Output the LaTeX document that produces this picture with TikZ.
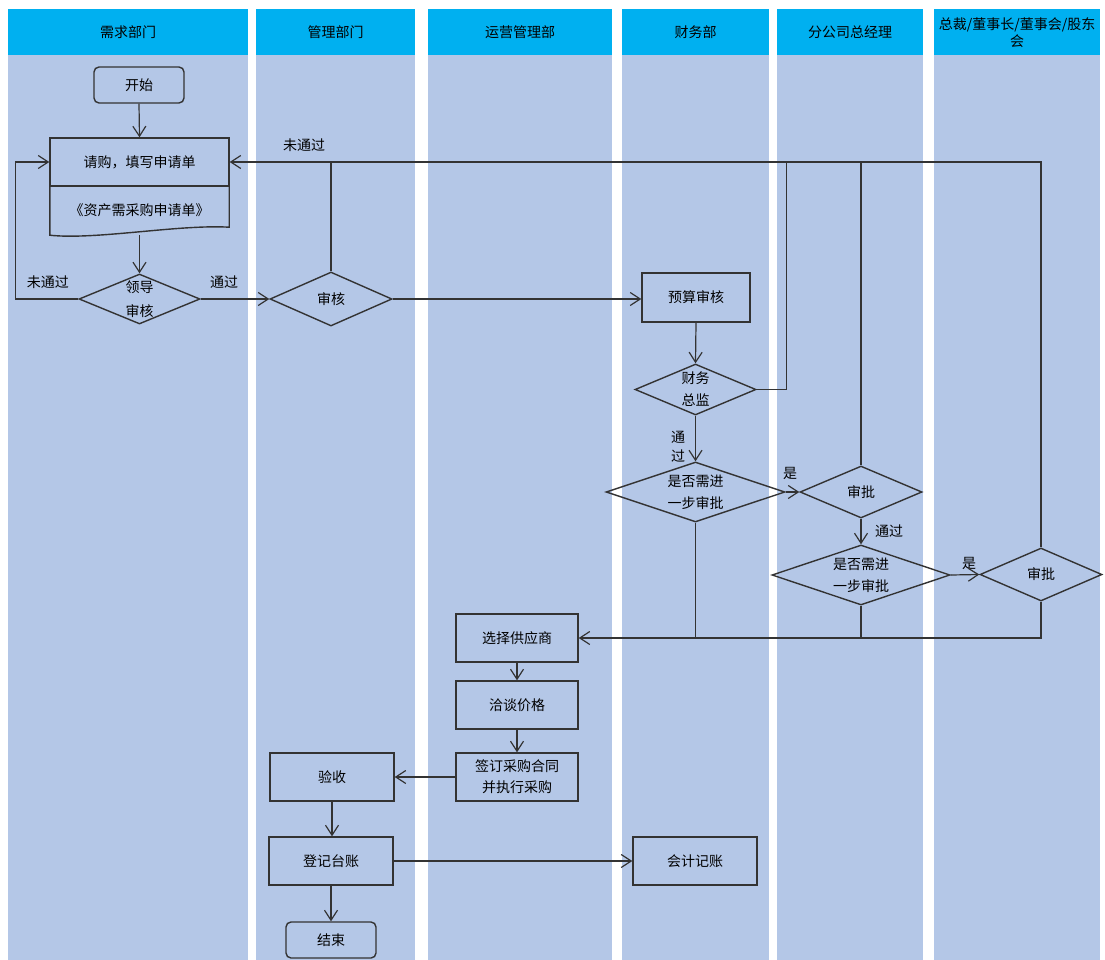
\documentclass[tikz,border=0pt]{standalone}
\usepackage{fontspec}
\setmainfont{Noto Sans CJK SC}
\usetikzlibrary{arrows.meta,shapes.geometric,calc}
\definecolor{hdr}{HTML}{00B0F0}
\definecolor{lanebg}{HTML}{B4C7E7}
\definecolor{ln}{HTML}{333333}
\begin{document}
\begin{tikzpicture}[x=1pt,y=-1pt,
  font=\fontsize{14}{16}\selectfont,
  hdrbox/.style={fill=hdr, draw=none, inner sep=0, anchor=north west, minimum height=46, align=center},
  box/.style={draw=ln, line width=1.4pt, rectangle, inner sep=0, align=center},
  term/.style={box, rounded corners=5pt},
  dia/.style={draw=ln, line width=1.4pt, diamond, inner sep=0},
  conn/.style={draw=ln, line width=1.2pt},
  arr/.style={conn, -{Straight Barb[length=10pt,width=13pt]}},
  lbl/.style={inner sep=0}
]
\useasboundingbox (0,0) rectangle (1105,960);
\fill[white] (0,0) rectangle (1105,960);
% lanes
\fill[lanebg] (8,55) rectangle (248,960);
\fill[lanebg] (256,55) rectangle (415,960);
\fill[lanebg] (428,55) rectangle (612,960);
\fill[lanebg] (622,55) rectangle (769,960);
\fill[lanebg] (777,55) rectangle (923,960);
\fill[lanebg] (934,55) rectangle (1100,960);
\node[hdrbox, minimum width=240] (h1) at (8,9) {需求部门};
\node[hdrbox, minimum width=159] (h2) at (256,9) {管理部门};
\node[hdrbox, minimum width=184] (h3) at (428,9) {运营管理部};
\node[hdrbox, minimum width=147] (h4) at (622,9) {财务部};
\node[hdrbox, minimum width=146] (h5) at (777,9) {分公司总经理};
\node[hdrbox, minimum width=166, font=\fontsize{14}{17}\selectfont] (h6) at (934,9) {总裁/董事长/董事会/股东\\会};

% nodes
\node[term, minimum width=90, minimum height=36] (start) at (139,85) {开始};
\node[box, minimum width=179, minimum height=48] (req) at (139.5,162) {请购，填写申请单};
\node[inner sep=0, minimum width=179, minimum height=49] (doc) at (139.5,210.5) {《资产需采购申请单》};
\draw[draw=ln, line width=1.4pt] (doc.north east) -- ($(doc.south east)+(0,-8)$)
  .. controls ($(doc.south east)+(-50,-11)$) and ($(doc.south west)+(45,5)$) .. (doc.south west) -- (doc.north west);
\node[dia, minimum width=121, minimum height=50,
  label={[lbl,align=center,font=\fontsize{14}{24}\selectfont]center:{领导\\审核}}] (ld) at (139.5,299) {};
\node[dia, minimum width=122, minimum height=54, label={[lbl]center:审核}] (sh) at (331,299) {};
\node[box, minimum width=108, minimum height=49] (ys) at (696,297.5) {预算审核};
\node[dia, minimum width=121, minimum height=51,
  label={[lbl,align=center,font=\fontsize{14}{22}\selectfont]center:{财务\\总监}}] (cw) at (695.5,389.5) {};
\node[dia, minimum width=179, minimum height=60,
  label={[lbl,align=center,font=\fontsize{14}{22}\selectfont]center:{是否需进\\一步审批}}] (q1) at (695.5,492) {};
\node[dia, minimum width=122, minimum height=52, label={[lbl]center:审批}] (sp1) at (861,492) {};
\node[dia, minimum width=178, minimum height=60,
  label={[lbl,align=center,font=\fontsize{14}{22}\selectfont]center:{是否需进\\一步审批}}] (q2) at (861,575) {};
\node[dia, minimum width=122, minimum height=53, label={[lbl]center:审批}] (sp2) at (1041,574.5) {};
\node[box, minimum width=122, minimum height=48] (sel) at (517,638) {选择供应商};
\node[box, minimum width=122, minimum height=48] (neg) at (517,705) {洽谈价格};
\node[box, minimum width=122, minimum height=48, font=\fontsize{14}{21}\selectfont] (sign) at (517,777) {签订采购合同\\并执行采购};
\node[box, minimum width=124, minimum height=48] (yan) at (332,777) {验收};
\node[box, minimum width=124, minimum height=48] (djtz) at (331,861) {登记台账};
\node[term, minimum width=90, minimum height=36] (end) at (331,940) {结束};
\node[box, minimum width=124, minimum height=48] (kj) at (695,861) {会计记账};

% labels
\node[lbl] (l1) at (48,282) {未通过};
\node[lbl] (l2) at (224,282) {通过};
\node[lbl] (l3) at (304,145) {未通过};
\node[lbl, align=center, font=\fontsize{14}{19}\selectfont] (l4) at (678,447) {通\\过};
\node[lbl] (l5) at (790,473) {是};
\node[lbl] (l6) at (889,531) {通过};
\node[lbl] (l7) at (969,563) {是};

% connectors
\draw[arr] (start.south) -- (req.north);
\draw[arr] (doc.south) -- (ld.north);
\draw[arr] (ld.west) -- ++(-63,0) coordinate (lw) |- (req.west);
\draw[arr] (ld.east) -- (sh.west);
\draw[arr] (sh.east) -- (sh.east -| ys.west);
\draw[arr] (ys.south) -- (cw.north);
\draw[arr] (cw.south) -- (q1.north);
\draw[arr] (q1.east) -- (sp1.west);
\draw[arr] (sp1.south) -- (q2.north);
\draw[arr] (q2.east) -- (sp2.west);
% return line to request
\draw[arr] (sp2.north) |- (req.east);
\draw[conn] (sh.north) -- (sh.north |- req.east);
\draw[conn] (cw.east) -- ++(30,0) coordinate (cwt) -- (cwt |- req.east);
\draw[conn] (sp1.north) -- (sp1.north |- req.east);
% merge to supplier selection
\draw[arr] (sp2.south) |- (sel.east);
\draw[conn] (q1.south) -- (q1.south |- sel.east);
\draw[conn] (q2.south) -- (q2.south |- sel.east);
\draw[arr] (sel.south) -- (neg.north);
\draw[arr] (neg.south) -- (sign.north);
\draw[arr] (sign.west) -- (yan.east);
\draw[arr] (yan.south) -- (yan.south |- djtz.north);
\draw[arr] (djtz.south) -- (djtz.south |- end.north);
\draw[arr] (djtz.east) -- (kj.west);
\end{tikzpicture}
\end{document}
